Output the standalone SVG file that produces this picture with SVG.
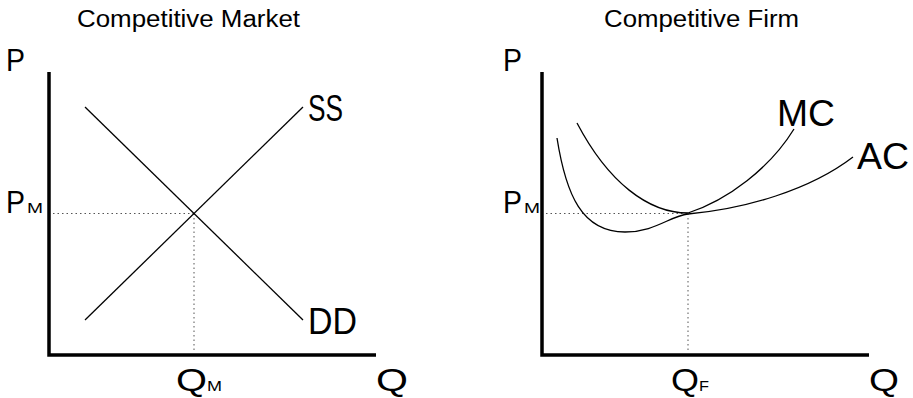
<svg xmlns="http://www.w3.org/2000/svg" width="913" height="398" viewBox="0 0 913 398">
<style>
text{font-family:"Liberation Sans",Arial,sans-serif;fill:#000}
.title{font-size:23px}
.big{font-size:31px}
.lbl{font-size:37px}
.sub{font-size:14px}
.axis{stroke:#000;stroke-width:3.5;fill:none}
.curve{stroke:#000;stroke-width:1.3;fill:none}
.dot{stroke:#555;stroke-width:1;stroke-dasharray:1.5 3;fill:none}
</style>
<rect width="913" height="398" fill="#fff"/>
<g id="market">
  <text class="title" x="77" y="27" textLength="223" lengthAdjust="spacingAndGlyphs">Competitive Market</text>
  <path class="axis" d="M49,72 V355 H376"/>
  <g id="market-connectors">
    <line class="dot" x1="53" y1="213.5" x2="194" y2="213.5"/>
    <line class="dot" x1="194" y1="213.5" x2="194" y2="353"/>
    <line class="curve" x1="85" y1="107" x2="303" y2="320"/>
    <line class="curve" x1="85" y1="320" x2="303" y2="107"/>
  </g>
  <text class="big" x="6" y="71" textLength="19" lengthAdjust="spacingAndGlyphs">P</text>
  <text class="big" x="6" y="213" textLength="19" lengthAdjust="spacingAndGlyphs">P</text><text class="sub" x="27" y="213" textLength="16" lengthAdjust="spacingAndGlyphs">M</text>
  <text class="lbl" x="308" y="121" textLength="35" lengthAdjust="spacingAndGlyphs">SS</text>
  <text class="lbl" x="308" y="334" textLength="49" lengthAdjust="spacingAndGlyphs">DD</text>
  <text class="big" x="176" y="391" textLength="31" lengthAdjust="spacingAndGlyphs">Q</text><text class="sub" x="207" y="391" textLength="15" lengthAdjust="spacingAndGlyphs">M</text>
  <text class="big" x="376" y="391" textLength="32" lengthAdjust="spacingAndGlyphs">Q</text>
</g>
<g id="firm">
  <text class="title" x="604" y="27" textLength="195" lengthAdjust="spacingAndGlyphs">Competitive Firm</text>
  <path class="axis" d="M542,72 V355 H869"/>
  <g id="firm-connectors">
    <line class="dot" x1="546" y1="213.5" x2="688" y2="213.5"/>
    <line class="dot" x1="688" y1="213.5" x2="688" y2="353"/>
    <path id="mc" class="curve" d="M577,123 C608,182 648,213 688,213 C728,200 770,168 794,129"/>
    <path id="ac" class="curve" d="M557,138 C566,195 582,232 625,232 C655,232 670,216 688,214 C745,209 810,190 853,157"/>
  </g>
  <text class="big" x="503" y="71" textLength="19" lengthAdjust="spacingAndGlyphs">P</text>
  <text class="big" x="503" y="213" textLength="19" lengthAdjust="spacingAndGlyphs">P</text><text class="sub" x="524" y="213" textLength="16" lengthAdjust="spacingAndGlyphs">M</text>
  <text class="lbl" x="777" y="126" textLength="58" lengthAdjust="spacingAndGlyphs">MC</text>
  <text class="lbl" x="857" y="169" textLength="52" lengthAdjust="spacingAndGlyphs">AC</text>
  <text class="big" x="671" y="391" textLength="28" lengthAdjust="spacingAndGlyphs">Q</text><text class="sub" x="699" y="391" textLength="10" lengthAdjust="spacingAndGlyphs">F</text>
  <text class="big" x="869" y="391" textLength="30" lengthAdjust="spacingAndGlyphs">Q</text>
</g>
</svg>
